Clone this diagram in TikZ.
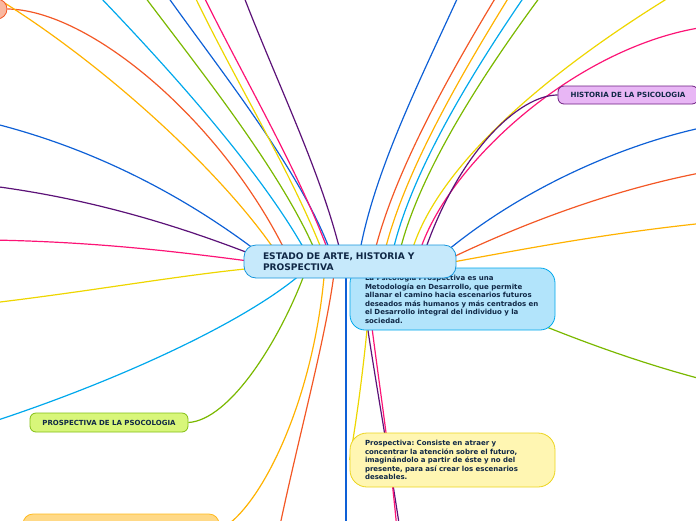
\documentclass[tikz,border=0pt]{standalone}
\usepackage{fontspec}
\setmainfont{DejaVu Sans}
\usetikzlibrary{backgrounds,calc}
\frenchspacing
\definecolor{cOr}{RGB}{243,88,38}
\definecolor{cYo}{RGB}{255,178,0}
\definecolor{cCy}{RGB}{0,168,236}
\definecolor{cGr}{RGB}{122,184,0}
\definecolor{cBl}{RGB}{14,96,214}
\definecolor{cYe}{RGB}{238,214,0}
\definecolor{cPk}{RGB}{252,20,118}
\definecolor{cPu}{RGB}{92,18,120}
\definecolor{txt}{RGB}{16,40,70}
\definecolor{cenFill}{RGB}{198,233,251}
\definecolor{cenLine}{RGB}{22,150,220}
\definecolor{b1Fill}{RGB}{178,228,251}
\definecolor{b2Fill}{RGB}{255,246,178}
\definecolor{b2Line}{RGB}{236,212,30}
\definecolor{hiFill}{RGB}{232,182,245}
\definecolor{hiLine}{RGB}{110,30,130}
\definecolor{prFill}{RGB}{216,246,122}
\definecolor{prLine}{RGB}{130,190,20}
\definecolor{boFill}{RGB}{255,217,135}
\definecolor{boLine}{RGB}{255,186,30}
\definecolor{ciFill}{RGB}{249,184,160}
\tikzset{
  link/.style={line width=1.2pt},
  box/.style={draw, line width=0.8pt, align=left, text=txt, inner ysep=0pt},
  small/.style={font=\bfseries\fontsize{7}{8.5}\selectfont},
}
\begin{document}
\begin{tikzpicture}[x=1pt,y=-1pt]
\useasboundingbox (0,0) rectangle (696,520);

% nodes
\node[box, small, fill=b1Fill, draw=cCy, rounded corners=15pt, minimum width=205pt, minimum height=62pt, text width=175pt, inner xsep=15pt] (b1) at (452.5,299)
 {La Psicología Prospectiva es una\\Metodología en Desarrollo, que permite\\allanar el camino hacia escenarios futuros\\deseados más humanos y más centrados en\\el Desarrollo integral del individuo y la\\sociedad.};
\node[box, small, fill=b2Fill, draw=b2Line, rounded corners=17pt, minimum width=205pt, minimum height=54pt, text width=175pt, inner xsep=15pt] (b2) at (452.5,460)
 {Prospectiva: Consiste en atraer y\\concentrar la atención sobre el futuro,\\imaginándolo a partir de éste y no del\\presente, para así crear los escenarios\\deseables.};
\node[box, fill=cenFill, draw=cenLine, rounded corners=12pt, minimum width=212pt, minimum height=33pt, text width=174pt, inner xsep=19pt, font=\bfseries\fontsize{9.1}{10.8}\selectfont] (c) at (350,261.5)
 {ESTADO DE ARTE, HISTORIA Y\\PROSPECTIVA};
\node[box, fill=hiFill, draw=hiLine, rounded corners=6pt, minimum width=140pt, minimum height=18pt, inner xsep=0pt, align=center, font=\bfseries\fontsize{7.1}{8}\selectfont] (hi) at (628,95) {HISTORIA DE LA PSICOLOGIA};
\node[box, fill=prFill, draw=prLine, rounded corners=6pt, minimum width=158pt, minimum height=19pt, inner xsep=0pt, align=center, font=\bfseries\fontsize{7}{8}\selectfont] (pr) at (109,422.5) {PROSPECTIVA DE LA PSOCOLOGIA};
\node[box, fill=boFill, draw=boLine, rounded corners=10pt, minimum width=196pt, minimum height=32pt] (bo) at (121,530) {};
\node[draw=cOr, fill=ciFill, line width=0.8pt, circle, minimum size=20pt, inner sep=0pt] (ci) at (-3,9) {};

% free ends
\coordinate (eYoTL) at (-10,-6);
\coordinate (eCyT) at (100,-3);
\coordinate (eGrT) at (145,-3);
\coordinate (eBlT) at (168,-3);
\coordinate (eYeT) at (195,-3);
\coordinate (ePkT) at (204,-3);
\coordinate (ePuT) at (244,-3);
\coordinate (eBlTR) at (458,-3);
\coordinate (eOrTR) at (496,-3);
\coordinate (eYoTR) at (509,-3);
\coordinate (eCyTR) at (524,-3);
\coordinate (eGrTR) at (540,-3);
\coordinate (eYeR) at (705,-24);
\coordinate (ePkR) at (705,27);
\coordinate (eBlR) at (705,127);
\coordinate (eOrR) at (705,172);
\coordinate (eYoR) at (705,223);
\coordinate (eGrR) at (705,380);
\coordinate (eBlL) at (-8,123);
\coordinate (ePuL) at (-8,186);
\coordinate (ePkL) at (-8,240);
\coordinate (eYeL) at (-8,303);
\coordinate (eCyL) at (-8,422);
\coordinate (eOrB) at (279,530);
\coordinate (eBlB) at (346,530);
\coordinate (ePuB) at (400,530);
\coordinate (ePkB) at (397,530);

\begin{pgfonlayer}{background}
% top-left
\draw[link, cOr] (ci.east) .. controls (90,10) and (220,120) .. ($(c.center)+(-65,-11)$);
\draw[link, cYo] (eYoTL) .. controls (100,60) and (220,170) .. ($(c.center)+(-75,-11)$);
\draw[link, cCy] (eCyT) .. controls (170,70) and (260,170) .. ($(c.center)+(-45,-11)$);
\draw[link, cGr] (eGrT) .. controls (200,70) and (280,170) .. ($(c.center)+(-35,-11)$);
\draw[link, cBl] (eBlT) .. controls (220,70) and (300,170) .. ($(c.center)+(-20,-11)$);
\draw[link, cYe] (eYeT) .. controls (235,80) and (290,170) .. ($(c.center)+(-28,-11)$);
\draw[link, cPk] (ePkT) .. controls (245,80) and (298,170) .. ($(c.center)+(-22,-11)$);
\draw[link, cPu] (ePuT) .. controls (278,85) and (320,170) .. ($(c.center)+(-10,-11)$);
% top-right
\draw[link, cBl] (eBlTR) .. controls (420,80) and (375,170) .. ($(c.center)+(10,-11)$);
\draw[link, cOr] (eOrTR) .. controls (452,70) and (395,170) .. ($(c.center)+(25,-11)$);
\draw[link, cYo] (eYoTR) .. controls (464,70) and (405,170) .. ($(c.center)+(35,-11)$);
\draw[link, cCy] (eCyTR) .. controls (474,70) and (412,170) .. ($(c.center)+(43,-11)$);
\draw[link, cGr] (eGrTR) .. controls (486,70) and (420,170) .. ($(c.center)+(50,-11)$);
\draw[link, cYe] (eYeR) .. controls (560,60) and (440,160) .. ($(c.center)+(62,-11)$);
\draw[link, cPk] (ePkR) .. controls (580,45) and (450,160) .. ($(c.center)+(70,-11)$);
\draw[link, cPu] (hi.west) .. controls (520,95) and (460,150) .. ($(c.center)+(75,-11)$);
\draw[link, cBl] (eBlR) .. controls (620,145) and (520,190) .. ($(c.center)+(95,-9)$);
\draw[link, cOr] (eOrR) .. controls (610,190) and (520,225) .. ($(c.center)+(100,-3)$);
\draw[link, cYo] (eYoR) .. controls (600,234) and (520,250) .. ($(c.center)+(100,1)$);
\draw[link, cGr] (eGrR) .. controls (590,350) and (480,300) .. ($(c.center)+(80,13)$);
% left
\draw[link, cBl] (eBlL) .. controls (100,150) and (190,200) .. ($(c.center)+(-90,-8)$);
\draw[link, cPu] (ePuL) .. controls (100,200) and (190,230) .. ($(c.center)+(-90,-4)$);
\draw[link, cPk] (ePkL) .. controls (100,242) and (180,252) .. ($(c.center)+(-90,1)$);
\draw[link, cYe] (eYeL) .. controls (100,290) and (180,275) .. ($(c.center)+(-90,6)$);
\draw[link, cCy] (eCyL) .. controls (120,380) and (250,320) .. ($(c.center)+(-45,9)$);
\draw[link, cGr] (pr.east) .. controls (230,420) and (280,340) .. ($(c.center)+(-45,11)$);
% bottom
\draw[link, cYo] (bo.east) .. controls (260,510) and (315,400) .. ($(c.center)+(-25,4)$);
\draw[link, cOr] (eOrB) .. controls (300,430) and (328,330) .. ($(c.center)+(-15,4)$);
\draw[link, cBl] ($(c.center)+(-4,8)$) -- (eBlB);
\draw[link, cPu] ($(c.center)+(10,8)$) .. controls (366,330) and (385,430) .. (ePuB);
\draw[link, cPk] ($(c.center)+(16,8)$) .. controls (370,330) and (388,430) .. (ePkB);
\draw[link, cYe] ($(c.center)+(22,8)$) .. controls (368,330) and (360,400) .. (b2.west);
\end{pgfonlayer}
\end{tikzpicture}
\end{document}
